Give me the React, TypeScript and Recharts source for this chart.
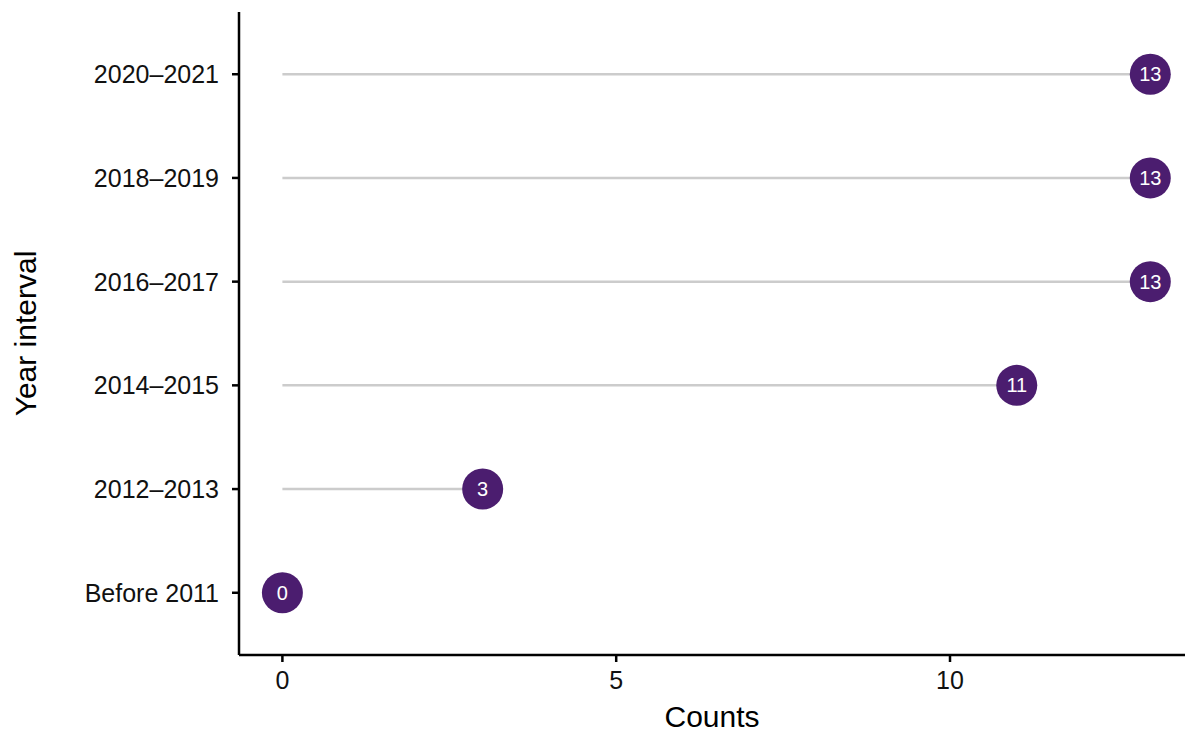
import React from 'react';
import { Label, ReferenceLine, Scatter, ScatterChart, XAxis, YAxis } from 'recharts';

const categories = ['Before 2011', '2012–2013', '2014–2015', '2016–2017', '2018–2019', '2020–2021'];
const counts = [0, 3, 11, 13, 13, 13];
const xTicks = [0, 5, 10];
const yTicks = categories.map((_, i) => i);

const data = categories.map((label, i) => ({ idx: i, count: counts[i], label }));

const FONT = '"Liberation Sans", Arial, Helvetica, sans-serif';
const DOT = '#4b1d6f';

const LollipopDot = (props: any) => {
  const { cx, cy, payload } = props;
  if (cx == null || cy == null) return null;
  return (
    <g>
      <circle cx={cx} cy={cy} r={20.5} fill={DOT} />
      <text x={cx} y={cy} dy={7} textAnchor="middle" fill="#ffffff" fontSize={20} fontFamily={FONT}>
        {payload.count}
      </text>
    </g>
  );
};

const YTitle = (props: any) => {
  const vb = props.viewBox || { x: 0, y: 0, width: 0, height: 0 };
  const x = vb.x + 36;
  const y = vb.y + vb.height / 2;
  return (
    <text x={x} y={y} transform={`rotate(-90, ${x}, ${y})`} textAnchor="middle" fill="#000" fontSize={30} fontFamily={FONT}>
      Year interval
    </text>
  );
};

export default function App() {
  return (
    <div style={{ position: 'absolute', left: 0, top: 0, background: '#fff' }}>
      <ScatterChart width={1187} height={733} margin={{ top: 12, right: 2, left: 0, bottom: 0 }}>
        <XAxis
          type="number"
          dataKey="count"
          domain={[-0.65, 13.52]}
          ticks={xTicks}
          allowDataOverflow
          height={78}
          tickSize={7}
          tickMargin={9}
          axisLine={{ stroke: '#000', strokeWidth: 2.5 }}
          tickLine={{ stroke: '#000', strokeWidth: 2.5 }}
          tick={{ fill: '#111', fontSize: 25, fontFamily: FONT }}
        >
          <Label value="Counts" position="insideBottom" offset={6} fill="#000" fontSize={30} fontFamily={FONT} />
        </XAxis>
        <YAxis
          type="number"
          dataKey="idx"
          domain={[-0.6, 5.6]}
          ticks={yTicks}
          interval={0}
          tickFormatter={(v: number) => categories[v]}
          width={239}
          tickSize={7}
          tickMargin={13}
          axisLine={{ stroke: '#000', strokeWidth: 2.5 }}
          tickLine={{ stroke: '#000', strokeWidth: 2.5 }}
          tick={{ fill: '#111', fontSize: 25, fontFamily: FONT }}
        >
          <Label content={<YTitle />} />
        </YAxis>
        {data.map((d) => (
          <ReferenceLine
            key={d.label}
            segment={[{ x: 0, y: d.idx }, { x: d.count, y: d.idx }]}
            stroke="#cccccc"
            strokeWidth={2.5}
          />
        ))}
        <Scatter data={data} shape={<LollipopDot />} isAnimationActive={false} />
      </ScatterChart>
    </div>
  );
}
